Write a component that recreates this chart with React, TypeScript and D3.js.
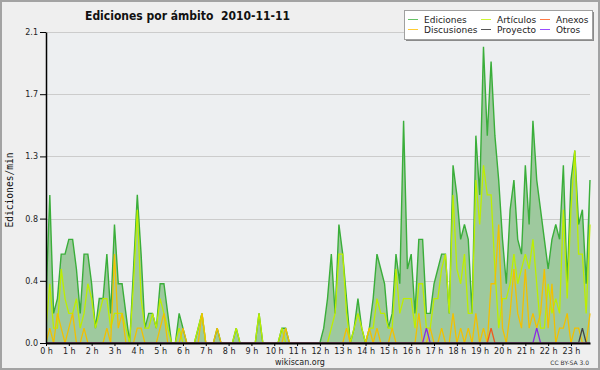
import * as React from "react";
import * as d3 from "d3";

// edits per minute, one value every 10 minutes (0:00 .. 23:50)
const ediciones = [
  0.3, 1.0, 0.2, 0.3, 0.6, 0.6, 0.7, 0.7, 0.5, 0.2, 0.6, 0.6,
  0.4, 0.1, 0.3, 0.3, 0.6, 0.2, 0.8, 0.4, 0.4, 0.2, 0.0, 0.5,
  1.0, 0.6, 0.1, 0.2, 0.2, 0.1, 0.4, 0.4, 0.2, 0.0, 0.0, 0.2,
  0.1, 0, 0, 0, 0.1, 0.2, 0, 0, 0, 0.1, 0, 0,
  0, 0, 0.1, 0, 0, 0, 0, 0, 0.2, 0, 0, 0,
  0, 0, 0.1, 0.1, 0, 0, 0, 0, 0, 0, 0, 0,
  0, 0.1, 0.3, 0.6, 0.2, 0.8, 0.6, 0.3, 0.0, 0.1, 0.3, 0.1,
  0.0, 0.1, 0.3, 0.6, 0.5, 0.4, 0.1, 0.2, 0.6, 0.4, 1.5, 0.5,
  0.6, 0.2, 0.7, 0.7, 0.2, 0.2, 0.4, 0.5, 0.6, 0.6, 0.2, 1.2,
  1.0, 0.7, 0.8, 0.7, 0.2, 1.4, 1.0, 2.0, 1.4, 1.9, 1.4, 1.1,
  0.7, 0.4, 0.9, 1.1, 0.7, 0.6, 1.2, 0.8, 1.5, 1.1, 0.9, 0.7,
  0.5, 0.7, 0.8, 0.7, 1.2, 0.4, 1.1, 1.3, 0.8, 0.9, 0.4, 1.1,
];

const articulos = [
  0.1, 0.4, 0.1, 0.1, 0.5, 0.3, 0.2, 0.2, 0.3, 0.1, 0.2, 0.4,
  0.3, 0.1, 0.2, 0.3, 0.3, 0.1, 0.2, 0.2, 0.2, 0.1, 0.0, 0.4,
  0.9, 0.3, 0.1, 0.1, 0.2, 0.1, 0.3, 0.2, 0.1, 0, 0, 0.1,
  0, 0, 0, 0, 0.1, 0.2, 0, 0, 0, 0, 0, 0,
  0, 0, 0.1, 0, 0, 0, 0, 0, 0.2, 0, 0, 0,
  0, 0, 0.1, 0, 0, 0, 0, 0, 0, 0, 0, 0,
  0, 0, 0, 0.1, 0.2, 0.6, 0.6, 0.2, 0.0, 0.1, 0.2, 0.1,
  0.0, 0.1, 0.1, 0.3, 0.2, 0.2, 0.1, 0.1, 0.5, 0.2, 0.3, 0.3,
  0.3, 0.1, 0.4, 0.4, 0.1, 0.1, 0.3, 0.3, 0.5, 0.6, 0.2, 1.0,
  0.5, 0.4, 0.6, 0.2, 0.2, 1.1, 0.8, 1.2, 1.0, 1.0, 0.5, 0.1,
  0.3, 0.3, 0.4, 0.6, 0.4, 0.5, 0.6, 0.5, 0.7, 0.4, 0.1, 0.1,
  0.4, 0.2, 0.3, 0.2, 0.9, 0.3, 0.9, 1.3, 0.6, 0.6, 0.2, 0.8,
];

const discusiones = [
  0, 0.1, 0, 0.2, 0.1, 0, 0.1, 0.2, 0, 0, 0.1, 0,
  0, 0, 0, 0, 0.1, 0, 0.6, 0.1, 0.2, 0, 0, 0,
  0.1, 0.1, 0, 0, 0, 0, 0.1, 0.2, 0, 0, 0, 0,
  0.1, 0, 0, 0, 0, 0.2, 0, 0, 0, 0.1, 0, 0,
  0, 0, 0, 0, 0, 0, 0, 0, 0, 0, 0, 0,
  0, 0, 0, 0.1, 0, 0, 0, 0, 0, 0, 0, 0,
  0, 0, 0, 0, 0, 0, 0, 0.1, 0, 0, 0, 0,
  0, 0.1, 0, 0.1, 0, 0, 0, 0.1, 0, 0, 0, 0,
  0, 0, 0.2, 0, 0, 0.1, 0, 0, 0.1, 0, 0, 0.2,
  0, 0.1, 0, 0.1, 0, 0.2, 0, 0.1, 0, 0.4, 0.4, 0.8,
  0.1, 0, 0.2, 0.5, 0.2, 0.1, 0.5, 0.1, 0.2, 0.1, 0.2, 0.5,
  0.1, 0.4, 0, 0.1, 0.1, 0.2, 0, 0.1, 0.1, 0, 0, 0.2,
];

const anexos = [
  0, 0, 0, 0, 0, 0, 0, 0, 0, 0, 0, 0,
  0, 0, 0, 0, 0, 0, 0, 0, 0, 0, 0, 0,
  0, 0, 0, 0, 0, 0, 0, 0, 0, 0, 0, 0,
  0, 0, 0, 0, 0, 0, 0, 0, 0, 0, 0, 0,
  0, 0, 0, 0, 0, 0, 0, 0, 0, 0, 0, 0,
  0, 0, 0, 0, 0, 0, 0, 0, 0, 0, 0, 0,
  0, 0, 0, 0, 0, 0, 0, 0, 0, 0, 0, 0,
  0, 0, 0, 0, 0, 0, 0, 0, 0, 0, 0, 0,
  0, 0, 0, 0, 0, 0, 0, 0, 0, 0, 0, 0,
  0, 0, 0, 0, 0, 0, 0, 0, 0, 0.1, 0, 0,
  0, 0, 0, 0, 0, 0, 0, 0, 0, 0, 0, 0,
  0, 0, 0, 0, 0, 0, 0, 0, 0, 0, 0, 0,
];

const proyecto = [
  0, 0, 0, 0, 0, 0, 0, 0, 0, 0, 0, 0,
  0, 0, 0, 0, 0, 0, 0, 0, 0, 0, 0, 0,
  0, 0, 0, 0, 0, 0, 0, 0, 0, 0, 0, 0,
  0, 0, 0, 0, 0, 0, 0, 0, 0, 0, 0, 0,
  0, 0, 0, 0, 0, 0, 0, 0, 0, 0, 0, 0,
  0, 0, 0, 0, 0, 0, 0, 0, 0, 0, 0, 0,
  0, 0, 0, 0, 0, 0, 0, 0, 0, 0, 0, 0,
  0, 0, 0, 0, 0, 0, 0, 0, 0, 0, 0, 0,
  0, 0, 0, 0, 0, 0, 0, 0, 0, 0, 0, 0,
  0, 0, 0, 0, 0, 0, 0, 0, 0, 0, 0, 0,
  0, 0, 0, 0, 0, 0, 0, 0, 0, 0, 0, 0,
  0, 0, 0, 0, 0, 0, 0, 0, 0, 0.1, 0, 0,
];

const otros = [
  0, 0, 0, 0, 0, 0, 0, 0, 0, 0, 0, 0,
  0, 0, 0, 0, 0, 0, 0, 0, 0, 0, 0, 0,
  0, 0, 0, 0, 0, 0, 0, 0, 0, 0, 0, 0,
  0, 0, 0, 0, 0, 0, 0, 0, 0, 0, 0, 0,
  0, 0, 0, 0, 0, 0, 0, 0, 0, 0, 0, 0,
  0, 0, 0, 0, 0, 0, 0, 0, 0, 0, 0, 0,
  0, 0, 0, 0, 0, 0, 0, 0, 0, 0, 0, 0,
  0, 0, 0, 0, 0, 0, 0, 0, 0, 0, 0, 0,
  0, 0, 0, 0, 0.1, 0, 0, 0, 0, 0, 0, 0,
  0, 0, 0, 0, 0, 0, 0, 0, 0, 0, 0, 0,
  0, 0, 0, 0, 0, 0, 0, 0, 0, 0.1, 0, 0,
  0, 0, 0, 0, 0, 0, 0, 0, 0, 0, 0, 0,
];

const hourLabels = [
  "0 h", "1 h", "2 h", "3 h", "4 h", "5 h", "6 h", "7 h", "8 h", "9 h", "10 h", "11 h",
  "12 h", "13 h", "14 h", "15 h", "16 h", "17 h", "18 h", "19 h", "20 h", "21 h", "22 h", "23 h",
];
const yTicks = [0, 0.42, 0.84, 1.26, 1.68, 2.1];

const series = [
  { name: "Artículos", data: articulos, color: "#bdee00" },
  { name: "Discusiones", data: discusiones, color: "#f2c000" },
  { name: "Anexos", data: anexos, color: "#ee5a1e" },
  { name: "Proyecto", data: proyecto, color: "#444444" },
  { name: "Otros", data: otros, color: "#8a2be2" },
];

const legendItems = [
  { name: "Ediciones", color: "#66c266", col: 0, row: 0 },
  { name: "Artículos", color: "#ccf533", col: 1, row: 0 },
  { name: "Anexos", color: "#ff7a45", col: 2, row: 0 },
  { name: "Discusiones", color: "#ffcc33", col: 0, row: 1 },
  { name: "Proyecto", color: "#555555", col: 1, row: 1 },
  { name: "Otros", color: "#9a4dff", col: 2, row: 1 },
];

function drawChart(svgRef) {
  const width = 600;
  const height = 370;
  const plot = { left: 46, right: 590, top: 32, bottom: 343 };
  const font = "DejaVu Sans, sans-serif";

  const x = d3.scaleLinear().domain([0, ediciones.length - 1]).range([plot.left, plot.right]);
  const y = d3.scaleLinear().domain([0, 2.1]).range([plot.bottom, plot.top]);

  const svg = d3.select(svgRef.current).attr("width", width).attr("height", height);
  svg.selectAll("*").remove();

  svg.append("defs").append("clipPath").attr("id", "plot-clip")
    .append("rect")
    .attr("x", plot.left).attr("y", 0)
    .attr("width", plot.right - plot.left + 2).attr("height", plot.bottom - 0.6);

  // frame
  svg.append("rect")
    .attr("x", 1).attr("y", 1).attr("width", width - 2).attr("height", height - 2)
    .attr("fill", "#efefef").attr("stroke", "#a3a3a3").attr("stroke-width", 2);

  svg.append("rect")
    .attr("x", plot.left).attr("y", plot.top)
    .attr("width", plot.right - plot.left).attr("height", plot.bottom - plot.top)
    .attr("fill", "#edeff1");

  // grid
  svg.append("g")
    .selectAll("line")
    .data(yTicks.slice(1))
    .join("line")
    .attr("x1", plot.left).attr("x2", plot.right)
    .attr("y1", (d) => Math.round(y(d)) + 0.5).attr("y2", (d) => Math.round(y(d)) + 0.5)
    .attr("stroke", "#cccccc");

  // Ediciones area + other series
  const area = d3.area().x((d, i) => x(i)).y0(y(0)).y1((d) => y(d));
  const line = d3.line().x((d, i) => x(i)).y((d) => y(d));

  const marks = svg.append("g").attr("clip-path", "url(#plot-clip)");
  marks.append("path").datum(ediciones).attr("d", area).attr("fill", "#9ec99e");
  marks.append("path").datum(ediciones).attr("d", line)
    .attr("fill", "none").attr("stroke", "#3aae3a").attr("stroke-width", 1.4);

  series.forEach((s) => {
    marks.append("path").datum(s.data).attr("d", line)
      .attr("fill", "none").attr("stroke", s.color).attr("stroke-width", 1.3);
  });

  // y axis
  const yAxis = svg.append("g").attr("transform", `translate(${plot.left},0)`);
  yAxis.call(
    d3.axisLeft(y).tickValues(d3.range(0, 2.1 + 1e-9, 0.105)).tickSize(3).tickFormat(() => "").tickSizeOuter(0)
  );
  yAxis.call(
    d3.axisLeft(y).tickValues(yTicks).tickSize(6).tickPadding(2).tickFormat(d3.format(".1f")).tickSizeOuter(0)
  );
  yAxis.selectAll(".domain").attr("stroke-width", 1.5);
  yAxis.selectAll("text").attr("font-family", font).attr("font-size", 8).attr("fill", "#222");

  // x axis
  const xAxis = svg.append("g").attr("transform", `translate(0,${plot.bottom})`);
  xAxis.call(
    d3.axisBottom(x).tickValues(d3.range(0, ediciones.length)).tickSize(3).tickFormat(() => "").tickSizeOuter(0)
  );
  xAxis.call(
    d3.axisBottom(x).tickValues(d3.range(0, ediciones.length, 6)).tickSize(3).tickPadding(2)
      .tickFormat((d) => hourLabels[d / 6]).tickSizeOuter(0)
  );
  xAxis.selectAll(".domain").attr("stroke-width", 2);
  xAxis.selectAll("text").attr("font-family", font).attr("font-size", 8).attr("fill", "#222");

  // titles
  svg.append("text")
    .attr("x", 85).attr("y", 20)
    .attr("font-family", "DejaVu Sans Condensed, DejaVu Sans, sans-serif")
    .attr("font-weight", "bold").attr("font-size", 13)
    .attr("textLength", 205).attr("lengthAdjust", "spacingAndGlyphs")
    .attr("fill", "#111")
    .style("white-space", "pre")
    .text("Ediciones por ámbito  2010-11-11");

  svg.append("text")
    .attr("transform", "translate(13,190) rotate(-90)")
    .attr("text-anchor", "middle")
    .attr("font-family", "DejaVu Sans Mono, monospace").attr("font-size", 9.6)
    .attr("fill", "#111")
    .text("Ediciones/min");

  svg.append("text")
    .attr("x", 300).attr("y", 365).attr("text-anchor", "middle")
    .attr("font-family", font).attr("font-size", 8).attr("fill", "#222")
    .text("wikiscan.org");

  svg.append("text")
    .attr("x", 589).attr("y", 365).attr("text-anchor", "end")
    .attr("font-family", font).attr("font-size", 6).attr("fill", "#333")
    .text("CC BY-SA 3.0");

  // legend
  const legend = svg.append("g");
  legend.append("rect").attr("x", 406).attr("y", 12).attr("width", 188).attr("height", 29).attr("fill", "#8a8a8a");
  legend.append("rect").attr("x", 404.5).attr("y", 10.5).attr("width", 188).attr("height", 29)
    .attr("fill", "#ffffff").attr("stroke", "#a0a0a0");
  const colX = [408, 481, 540];
  const rowY = [19.5, 29.5];
  const items = legend.selectAll("g.item").data(legendItems).join("g").attr("class", "item");
  items.append("line")
    .attr("x1", (d) => colX[d.col]).attr("x2", (d) => colX[d.col] + 10)
    .attr("y1", (d) => rowY[d.row]).attr("y2", (d) => rowY[d.row])
    .attr("stroke", (d) => d.color).attr("stroke-width", 1);
  items.append("text")
    .attr("x", (d) => colX[d.col] + 16).attr("y", (d) => rowY[d.row] + 3)
    .attr("font-family", font).attr("font-size", 9).attr("fill", "#222")
    .text((d) => d.name);
}

const App = () => {
  const svgRef = React.useRef(null);

  React.useEffect(() => {
    drawChart(svgRef);
  }, [svgRef]);

  return (
    <div style={{ position: "absolute", left: 0, top: 0 }}>
      <svg ref={svgRef} style={{ display: "block" }} />
    </div>
  );
};

export default App;
